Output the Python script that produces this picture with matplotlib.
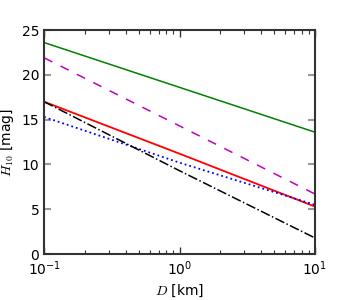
import matplotlib
matplotlib.use('Agg')
import matplotlib.pyplot as plt
import numpy as np

plt.rcParams['mathtext.fontset'] = 'cm'
plt.rcParams['font.family'] = 'DejaVu Sans'

# diameters (km) and absolute magnitudes
D = [0.1, 1.0, 10.0]
H_green = [23.6, 18.6, 13.6]
H_magenta = [21.9, 14.3, 6.7]
H_red = [17.0, 11.2, 5.3]
H_blue = [15.3, 10.2, 5.5]
H_black = [17.0, 9.3, 1.8]

fig = plt.figure(figsize=(3.5, 3.0), dpi=100)
ax = fig.add_axes([0.126, 0.153, 0.774, 0.747])

ax.plot(D, H_green, '-', color='green', lw=1.1)
ax.plot(D, H_magenta, '--', color='m', lw=1.1, dashes=(6, 6))
ax.plot(D, H_red, '-', color='red', lw=1.3)
ax.plot(D, H_blue, ':', color='blue', lw=1.3)
ax.plot(D, H_black, '-.', color='black', lw=1.1)

ax.set_xscale('log')
ax.set_xlim(0.1, 10)
ax.set_ylim(0, 25)
ax.set_yticks([0, 5, 10, 15, 20, 25])

ax.set_xlabel(r'$D$ [km]', fontsize=10)
ax.set_ylabel(r'$H_{10}$ [mag]', fontsize=10)

for s in ax.spines.values():
    s.set_linewidth(1.5)
    s.set_color('#333333')
ax.tick_params(which='both', direction='in', top=True, right=True, labelsize=10)
ax.tick_params(axis='y', which='major', length=5, width=1.5, color='#999999')
ax.tick_params(axis='x', which='major', length=5, width=1, color='#333333')
ax.tick_params(axis='x', which='minor', length=3, width=0.8, color='#333333')

fig.savefig('out.png', dpi=100)
